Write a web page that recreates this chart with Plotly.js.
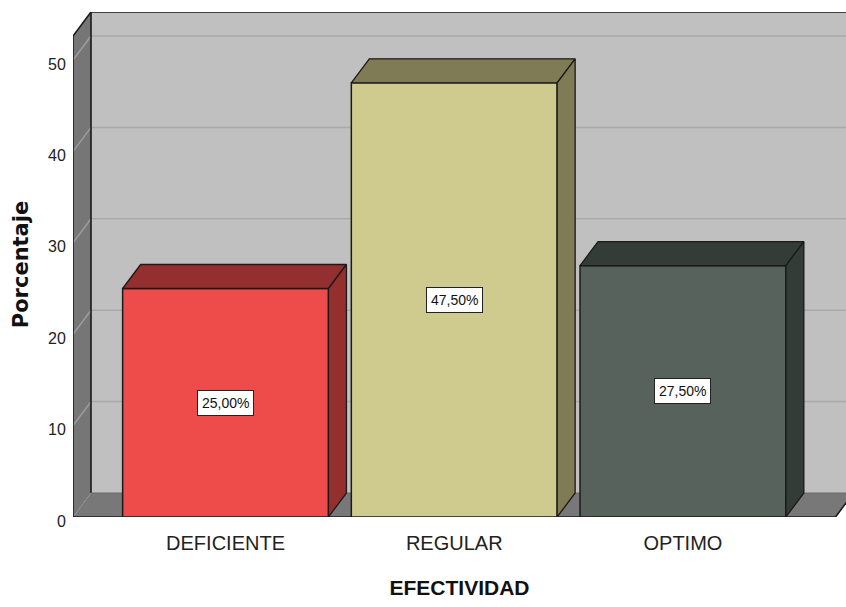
<!DOCTYPE html>
<html>
<head>
<meta charset="utf-8">
<script src="https://cdn.plot.ly/plotly-3.0.1.min.js"></script>
<style>html,body{margin:0;padding:0;background:#fff;}#chart{width:846px;height:607px;}</style>
</head>
<body>
<div id="chart"></div>
<script>
// ---- data ----
const categories = ['DEFICIENTE', 'REGULAR', 'OPTIMO'];
const values = [25.0, 47.5, 27.5];
const yTickVals = [0, 10, 20, 30, 40, 50];
const frontColors = ['#EE4B4B', '#CFCB8E', '#58625C'];
const sideColors = ['#942F30', '#7F7B55', '#343C37'];

// ---- geometry (3D look) ----
const xPos = categories.map((c, i) => i);
const barW = 0.9;
const X0 = -0.667, X1 = 2.713;          // x axis range
const YTOP = 55.25;                       // y axis range top
const DX = 0.0787, DY = 2.626;            // depth offset in data units
const floorRight = xPos[xPos.length - 1] + 0.667;
const edge = '#1a1a1a';

const traces = [];
// front faces
traces.push({
  type: 'bar', x: xPos, y: values, width: barW,
  marker: {color: frontColors, line: {color: edge, width: 1.5}},
  hoverinfo: 'skip', showlegend: false
});
// tops and sides
values.forEach((v, i) => {
  const l = xPos[i] - barW / 2, r = xPos[i] + barW / 2;
  traces.push({
    type: 'scatter', mode: 'lines', fill: 'toself', fillcolor: sideColors[i],
    x: [l, r, r + DX, l + DX, l], y: [v, v, v + DY, v + DY, v],
    line: {color: edge, width: 1.3}, hoverinfo: 'skip', showlegend: false
  });
  traces.push({
    type: 'scatter', mode: 'lines', fill: 'toself', fillcolor: sideColors[i],
    x: [r, r + DX, r + DX, r, r], y: [0, DY, v + DY, v, 0],
    line: {color: edge, width: 1.3}, hoverinfo: 'skip', showlegend: false
  });
});

// ---- walls, floor, grid ----
const shapes = [];
const P = pts => 'M' + pts.map(p => p[0] + ',' + p[1]).join(' L') + ' Z';
// back wall
shapes.push({type: 'rect', xref: 'x', yref: 'y', layer: 'below',
  x0: X0 + DX, x1: X1 + 1, y0: DY, y1: YTOP, fillcolor: '#C0C0C0', line: {width: 0}});
// left wall
shapes.push({type: 'path', xref: 'x', yref: 'y', layer: 'below',
  path: P([[X0, 0], [X0 + DX, DY], [X0 + DX, YTOP], [X0, YTOP - DY]]),
  fillcolor: '#767676', line: {width: 0}});
// floor
shapes.push({type: 'path', xref: 'x', yref: 'y', layer: 'below',
  path: P([[X0, 0], [floorRight, 0], [floorRight + DX, DY], [X0 + DX, DY]]),
  fillcolor: '#787878', line: {width: 0}});
// grid lines
yTickVals.filter(v => v > 0).forEach(v => {
  shapes.push({type: 'line', xref: 'x', yref: 'y', layer: 'below',
    x0: X0 + DX, x1: X1 + 1, y0: v + DY, y1: v + DY, line: {color: '#A9A9A9', width: 1.5}});
  shapes.push({type: 'line', xref: 'x', yref: 'y', layer: 'below',
    x0: X0, x1: X0 + DX, y0: v, y1: v + DY, line: {color: '#9C9C9C', width: 1.5}});
});
// frame edges
const edgeLines = [
  [X0, 0, X0, YTOP - DY],
  [X0 + DX, DY, X0 + DX, YTOP],
  [X0, YTOP - DY, X0 + DX, YTOP],
  [X0 + DX, YTOP, X1 + 1, YTOP],
  [X0, 0, floorRight, 0],
  [floorRight, 0, floorRight + DX, DY]
];
edgeLines.forEach(e => shapes.push({type: 'line', xref: 'x', yref: 'y', layer: 'below',
  x0: e[0], y0: e[1], x1: e[2], y1: e[3], line: {color: edge, width: 1.6}}));
shapes.push({type: 'line', xref: 'x', yref: 'y', layer: 'below',
  x0: X0 + DX, y0: DY, x1: X1 + 1, y1: DY, line: {color: '#6a6a6a', width: 1}});

// ---- value labels ----
const annotations = values.map((v, i) => ({
  x: xPos[i], y: v / 2, xref: 'x', yref: 'y', showarrow: false,
  text: v.toFixed(2).replace('.', ',') + '%',
  font: {family: 'Liberation Sans, Arial, sans-serif', size: 14, color: '#111'},
  bgcolor: '#FFFFFF', bordercolor: '#222', borderwidth: 1, borderpad: 4
}));

const layout = {
  width: 846, height: 607,
  margin: {l: 73, r: 0, t: 12, b: 90},
  paper_bgcolor: '#FFFFFF', plot_bgcolor: 'rgba(0,0,0,0)',
  showlegend: false,
  font: {family: 'Liberation Sans, Arial, sans-serif', color: '#222'},
  xaxis: {
    range: [X0, X1], tickvals: xPos, ticktext: categories,
    showgrid: false, zeroline: false, showline: false,
    ticks: 'outside', ticklen: 8, tickcolor: 'rgba(0,0,0,0)',
    tickfont: {size: 20, color: '#222'},
    title: {text: 'EFECTIVIDAD', standoff: 27,
      font: {family: 'Liberation Sans, Arial, sans-serif', size: 21, color: '#111', weight: 'bold'}},
    fixedrange: true, automargin: false
  },
  yaxis: {
    range: [0, YTOP], tickvals: yTickVals,
    showgrid: false, zeroline: false, showline: false,
    ticks: 'outside', ticklen: 3, tickcolor: 'rgba(0,0,0,0)',
    ticklabelshift: 4,
    tickfont: {size: 16, color: '#222'},
    title: {text: 'Porcentaje', standoff: 13,
      font: {family: 'DejaVu Sans, sans-serif', size: 21, color: '#111', weight: 'bold'}},
    fixedrange: true, automargin: false
  },
  shapes: shapes,
  annotations: annotations
};

Plotly.newPlot('chart', traces, layout, {displayModeBar: false, staticPlot: true});
</script>
</body>
</html>
